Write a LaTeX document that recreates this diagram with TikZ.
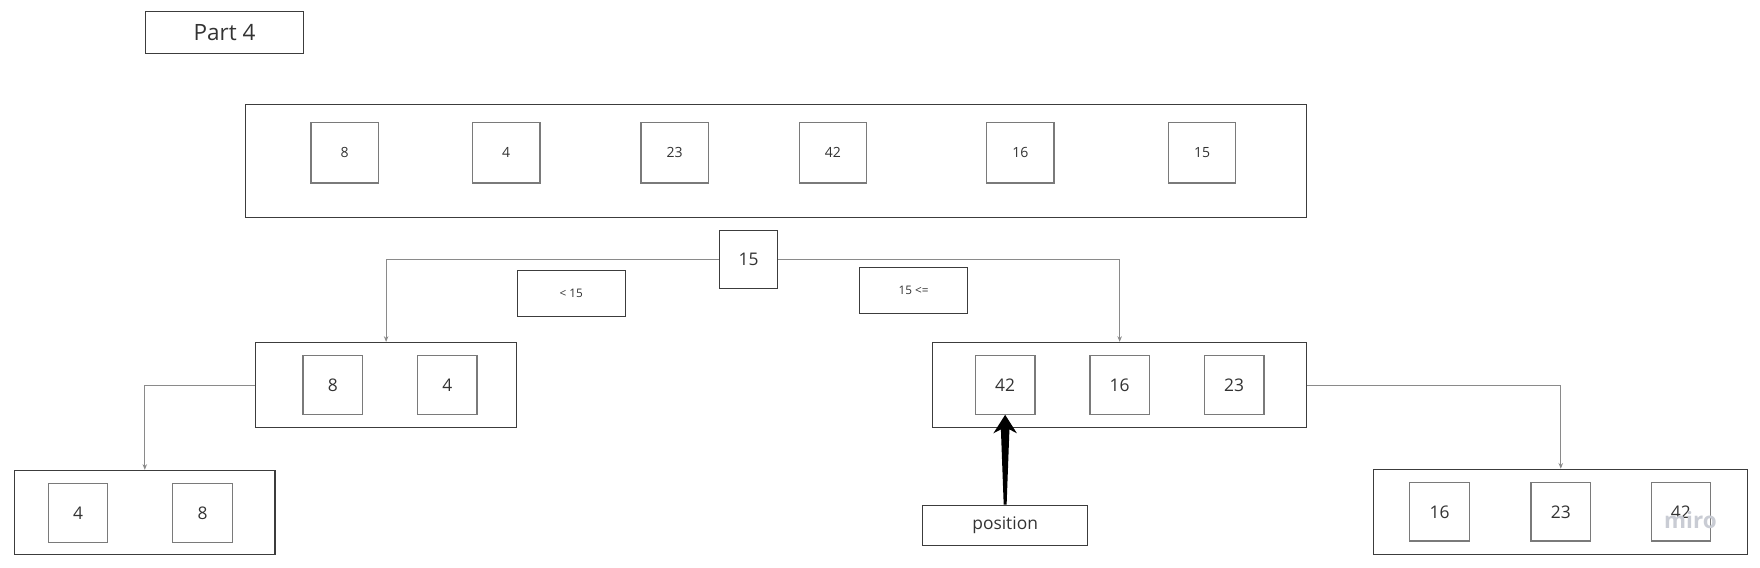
\documentclass[tikz,border=0pt]{standalone}
\usepackage{fontspec}
\setmainfont{Open Sans}
\usetikzlibrary{calc,arrows.meta}
\definecolor{outerc}{HTML}{3C3C3C}
\definecolor{innerc}{HTML}{7A7A7A}
\definecolor{linkc}{HTML}{8A8A8A}
\definecolor{txtc}{HTML}{333333}
\definecolor{wmark}{HTML}{C9CCD4}
\begin{document}
\begin{tikzpicture}[x=1pt,y=-1pt,
  outerbox/.style={draw=outerc,line width=0.9pt,rectangle,inner sep=0pt,text=txtc},
  cellbig/.style={draw=innerc,line width=1.1pt,rectangle,inner sep=0pt,minimum width=53pt,minimum height=52pt,text=txtc,font=\fontsize{15.5}{18}\selectfont},
  celltop/.style={draw=innerc,line width=1.1pt,rectangle,inner sep=0pt,minimum width=60pt,minimum height=54pt,text=txtc,font=\fontsize{12.5}{15}\selectfont},
  labelbox/.style={draw=outerc,line width=0.9pt,rectangle,inner sep=0pt,minimum width=96pt,minimum height=41pt,text=txtc,font=\fontsize{10.5}{12}\selectfont},
  link/.style={draw=linkc,line width=0.9pt,-{Stealth[length=5pt,width=4pt]}}]
\useasboundingbox (0,0) rectangle (1568,506);
\fill[white] (0,0) rectangle (1568,506);
% title
\node[outerbox,minimum width=140pt,minimum height=38pt,font=\fontsize{20}{24}\selectfont] (title) at (200,29) {Part 4};
% top array
\node[outerbox,minimum width=945pt,minimum height=101pt] (top) at (691.5,143.5) {};
\node[celltop] (t1) at (307,136) {8};
\node[celltop] (t2) at (451,136) {4};
\node[celltop] (t3) at (601,136) {23};
\node[celltop] (t4) at (742,136) {42};
\node[celltop] (t5) at (909,136) {16};
\node[celltop] (t6) at (1071,136) {15};
% pivot
\node[outerbox,minimum width=52pt,minimum height=52pt,font=\fontsize{15.5}{18}\selectfont] (pivot) at (667,231) {15};
\node[labelbox] (lt) at (509,261.5) {< 15};
\node[labelbox] (ge) at (814,258.5) {15 <=};
% left middle
\node[outerbox,minimum width=232pt,minimum height=76pt] (lmid) at (344,343) {};
\node[cellbig] (l1) at (296.5,343) {8};
\node[cellbig] (l2) at (398.5,343) {4};
% right middle
\node[outerbox,minimum width=333pt,minimum height=76pt] (rmid) at (997.5,343) {};
\node[cellbig] (r1) at (895.5,343) {42};
\node[cellbig] (r2) at (997.5,343) {16};
\node[cellbig] (r3) at (1099.5,343) {23};
% left bottom
\node[outerbox,minimum width=232pt,minimum height=75pt] (lbot) at (129,456.5) {};
\node[cellbig] (lb1) at (69.5,457) {4};
\node[cellbig] (lb2) at (180.5,457) {8};
% right bottom
\node[outerbox,minimum width=333pt,minimum height=76pt] (rbot) at (1390.5,456) {};
\node[cellbig] (rb1) at (1282.5,456) {16};
\node[cellbig] (rb2) at (1390.5,456) {23};
\node[cellbig] (rb3) at (1497.5,456) {42};
% position
\node[outerbox,minimum width=147pt,minimum height=36pt,font=\fontsize{15.5}{18}\selectfont] (pos) at (895.5,468) {position};
% connectors
\draw[link] (pivot.west) -| (lmid.north);
\draw[link] (pivot.east) -| (rmid.north);
\draw[link] (lmid.west) -| (lbot.north);
\draw[link] (rmid.east) -| (rbot.north);
% thick tapered arrow
\fill[black] ($(pos.north)+(-1.3,0)$) -- ($(r1.south)+(-3.8,13)$) -- ($(r1.south)+(-10.5,16.5)$) -- (r1.south) -- ($(r1.south)+(10.5,16.5)$) -- ($(r1.south)+(3.8,13)$) -- ($(pos.north)+(1.3,0)$) -- cycle;
% watermark
\node[text=wmark,font=\fontsize{20}{24}\selectfont\bfseries] (wm) at (1506,463) {miro};
\end{tikzpicture}
\end{document}
